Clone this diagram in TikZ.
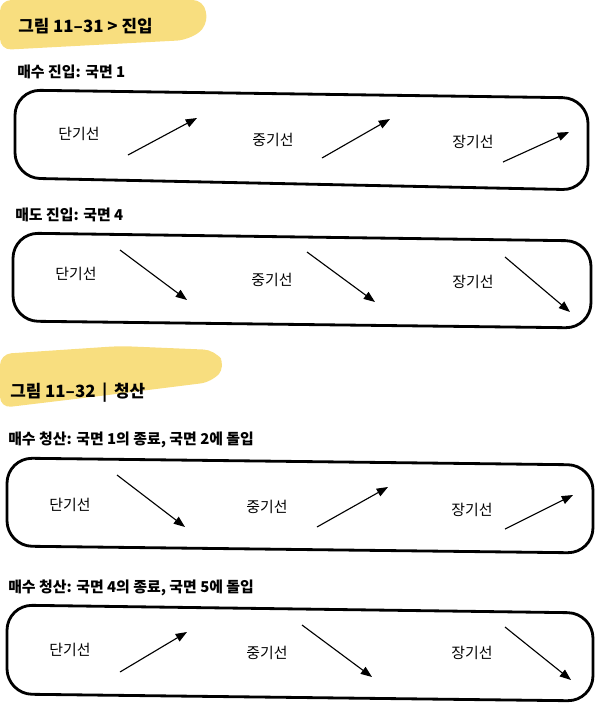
\documentclass[tikz,border=0pt]{standalone}
\usepackage{fontspec}
\setmainfont{Noto Sans CJK KR}
\usetikzlibrary{arrows.meta}
\definecolor{marker}{RGB}{247,216,105}

\begin{document}
\begin{tikzpicture}[
x=0.025cm,
y=-0.025cm,
trend/.style={-{Triangle[length=8pt,width=6pt]}, line width=0.8pt},
frame/.style={line width=2pt, rounded corners=18pt},
line label/.style={font=\fontsize{10.6}{12}\selectfont},
fig title/.style={anchor=west, inner sep=0pt,
                  font=\fontsize{12}{14}\selectfont\bfseries},
sub title/.style={anchor=west, inner sep=0pt,
                  font=\fontsize{10.6}{12}\selectfont\bfseries}]
\useasboundingbox (0,0) rectangle (600,719);
%marker strokes
  \fill[marker, opacity=0.85, rounded corners=8pt]
    (0,0) -- (204,0) -- (208,26) -- (188,40) -- (0,50) -- cycle;
  \fill[marker, opacity=0.85, rounded corners=8pt]
    (0,354) -- (120,346) -- (215,350) -- (226,366) -- (212,382) -- (100,396) -- (0,408) -- cycle;
%titles
  \node[fig title] (t1) at (18,26) {그림 11–31 > 진입};
  \node[fig title] (t2) at (10,393) {그림 11–32 \,|\, 청산};
%1
  \node[sub title] (s1) at (17,72) {매수 진입: 국면 1};
  \draw[frame] (15,90) -- (588,98) -- (588,190) -- (15,178) -- cycle;
  \node[line label] (d1) at (79,134) {단기선};
  \node[line label] (m1) at (273,140) {중기선};
  \node[line label] (l1) at (473,142) {장기선};
  \coordinate (d1a) at (128,155); \coordinate (d1b) at (197,118);
  \coordinate (m1a) at (322,158); \coordinate (m1b) at (390,119);
  \coordinate (l1a) at (503,162); \coordinate (l1b) at (569,132);
  \draw[trend] (d1a) -- (d1b);
  \draw[trend] (m1a) -- (m1b);
  \draw[trend] (l1a) -- (l1b);
%2
  \node[sub title] (s2) at (15,215) {매도 진입: 국면 4};
  \draw[frame] (13,233) -- (591,241) -- (591,328) -- (13,321) -- cycle;
  \node[line label] (d2) at (76,274) {단기선};
  \node[line label] (m2) at (272,280) {중기선};
  \node[line label] (l2) at (473,282) {장기선};
  \coordinate (d2a) at (120,250); \coordinate (d2b) at (187,300);
  \coordinate (m2a) at (307,252); \coordinate (m2b) at (375,302);
  \coordinate (l2a) at (505,257); \coordinate (l2b) at (570,312);
  \draw[trend] (d2a) -- (d2b);
  \draw[trend] (m2a) -- (m2b);
  \draw[trend] (l2a) -- (l2b);
%3
  \node[sub title] (s3) at (8,440) {매수 청산: 국면 1의 종료, 국면 2에 돌입};
  \draw[frame] (7,458) -- (593,465) -- (593,553) -- (7,546) -- cycle;
  \node[line label] (d3) at (70,505) {단기선};
  \node[line label] (m3) at (267,507) {중기선};
  \node[line label] (l3) at (472,510) {장기선};
  \coordinate (d3a) at (117,475); \coordinate (d3b) at (185,527);
  \coordinate (m3a) at (317,527); \coordinate (m3b) at (388,487);
  \coordinate (l3a) at (505,529); \coordinate (l3b) at (573,495);
  \draw[trend] (d3a) -- (d3b);
  \draw[trend] (m3a) -- (m3b);
  \draw[trend] (l3a) -- (l3b);
%4
  \node[sub title] (s4) at (8,588) {매수 청산: 국면 4의 종료, 국면 5에 돌입};
  \draw[frame] (7,605) -- (593,613) -- (593,701) -- (7,694) -- cycle;
  \node[line label] (d4) at (70,650) {단기선};
  \node[line label] (m4) at (267,653) {중기선};
  \node[line label] (l4) at (472,653) {장기선};
  \coordinate (d4a) at (120,672); \coordinate (d4b) at (187,632);
  \coordinate (m4a) at (302,625); \coordinate (m4b) at (372,677);
  \coordinate (l4a) at (505,627); \coordinate (l4b) at (571,680);
  \draw[trend] (d4a) -- (d4b);
  \draw[trend] (m4a) -- (m4b);
  \draw[trend] (l4a) -- (l4b);
\end{tikzpicture}
\end{document}
